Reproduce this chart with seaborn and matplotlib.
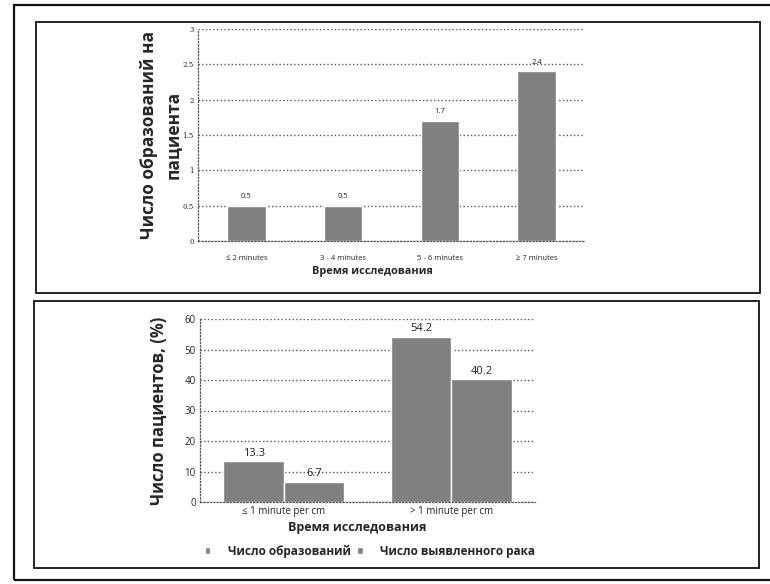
import matplotlib
matplotlib.use("Agg")
import matplotlib.pyplot as plt
from matplotlib.patches import Rectangle
import pandas as pd
import seaborn as sns

# данные
time_cats = ["≤ 2 minutes", "3 - 4 minutes", "5 - 6 minutes", "≥ 7 minutes"]
lesions_per_patient = [0.5, 0.5, 1.7, 2.4]

speed_cats = ["≤ 1 minute per cm", "> 1 minute per cm"]
series_names = ["Число образований", "Число выявленного рака"]
pct_lesions = [13.3, 54.2]
pct_cancer = [6.7, 40.2]

BAR = "#808080"
GRID = "#555555"
W, H = 770, 584

sns.set_style("white")
plt.rcParams["font.family"] = ["Open Sans", "DejaVu Sans"]


def ax_rect(x0, y0, x1, y1):
    # пиксели -> доли фигуры
    return [x0 / W, 1 - y1 / H, (x1 - x0) / W, (y1 - y0) / H]


def style_axis(ax, tick_size):
    for side in ["top", "right"]:
        ax.spines[side].set_visible(False)
    for side in ["left", "bottom"]:
        ax.spines[side].set_linestyle(":")
        ax.spines[side].set_color(GRID)
        ax.spines[side].set_linewidth(0.9)
    ax.yaxis.grid(True, linestyle=":", color=GRID, linewidth=1.0)
    ax.set_axisbelow(True)
    ax.tick_params(axis="both", length=0, labelsize=tick_size, colors="#222222", pad=3)


fig = plt.figure(figsize=(W / 100, H / 100), dpi=100)

# рамки
for (x0, y0, x1, y1, lw) in [(14, 5, 790, 580, 1.6), (36, 22, 760, 293, 1.3), (34, 301, 759, 568, 1.3)]:
    fig.patches.append(Rectangle((x0 / W, 1 - y1 / H), (x1 - x0) / W, (y1 - y0) / H,
                                 transform=fig.transFigure, fill=False,
                                 edgecolor="#111111", linewidth=lw))

# верхний график
df_top = pd.DataFrame({"time": time_cats, "value": lesions_per_patient})
ax1 = fig.add_axes(ax_rect(198, 29, 585, 241))
sns.barplot(data=df_top, x="time", y="value", color=BAR, width=0.4,
            saturation=1, ax=ax1)
ax1.set_ylim(0, 3)
ax1.set_yticks([0, 0.5, 1, 1.5, 2, 2.5, 3])
ax1.set_yticklabels(["0", "0.5", "1", "1.5", "2", "2.5", "3"], family="DejaVu Serif")
style_axis(ax1, 5)
ax1.tick_params(axis="x", labelsize=5.5, pad=10)
for c in ax1.containers:
    ax1.bar_label(c, labels=[f"{v:.1f}" for v in lesions_per_patient],
                  fontsize=5.5, padding=4, color="#222222")
ax1.set_ylabel("Число образований на\nпациента", fontsize=12.5,
               fontweight="bold", linespacing=1.45)
ax1.yaxis.set_label_coords(-0.04, 0.5)
ax1.set_xlabel("Время исследования", fontsize=7.8, fontweight="bold")
ax1.xaxis.set_label_coords(0.45, -0.12)

# нижний график
df_bot = pd.DataFrame({
    "speed": speed_cats * 2,
    "series": [series_names[0]] * 2 + [series_names[1]] * 2,
    "value": pct_lesions + pct_cancer,
})
ax2 = fig.add_axes(ax_rect(200, 319, 535, 502))
sns.barplot(data=df_bot, x="speed", y="value", hue="series",
            palette=[BAR, BAR], width=0.72, gap=0, saturation=1, ax=ax2)
ax2.set_ylim(0, 60)
ax2.set_yticks(range(0, 61, 10))
style_axis(ax2, 7)
for c in ax2.containers:
    ax2.bar_label(c, fmt="%.1f", fontsize=8, padding=2, color="#222222")
ax2.set_ylabel("Число пациентов, (%)", fontsize=12, fontweight="bold")
ax2.yaxis.set_label_coords(-0.095, 0.5)
ax2.set_xlabel("Время исследования", fontsize=9, fontweight="bold")
ax2.xaxis.set_label_coords(0.47, -0.105)

sns.move_legend(ax2, "center", bbox_to_anchor=(370 / W, 1 - 551 / H),
                bbox_transform=fig.transFigure, ncol=2, frameon=False,
                title=None, handlelength=0.5, handleheight=0.5,
                handletextpad=1.5, columnspacing=0.5,
                prop={"size": 8.5, "weight": "bold"})

fig.savefig("out.png", dpi=100)
